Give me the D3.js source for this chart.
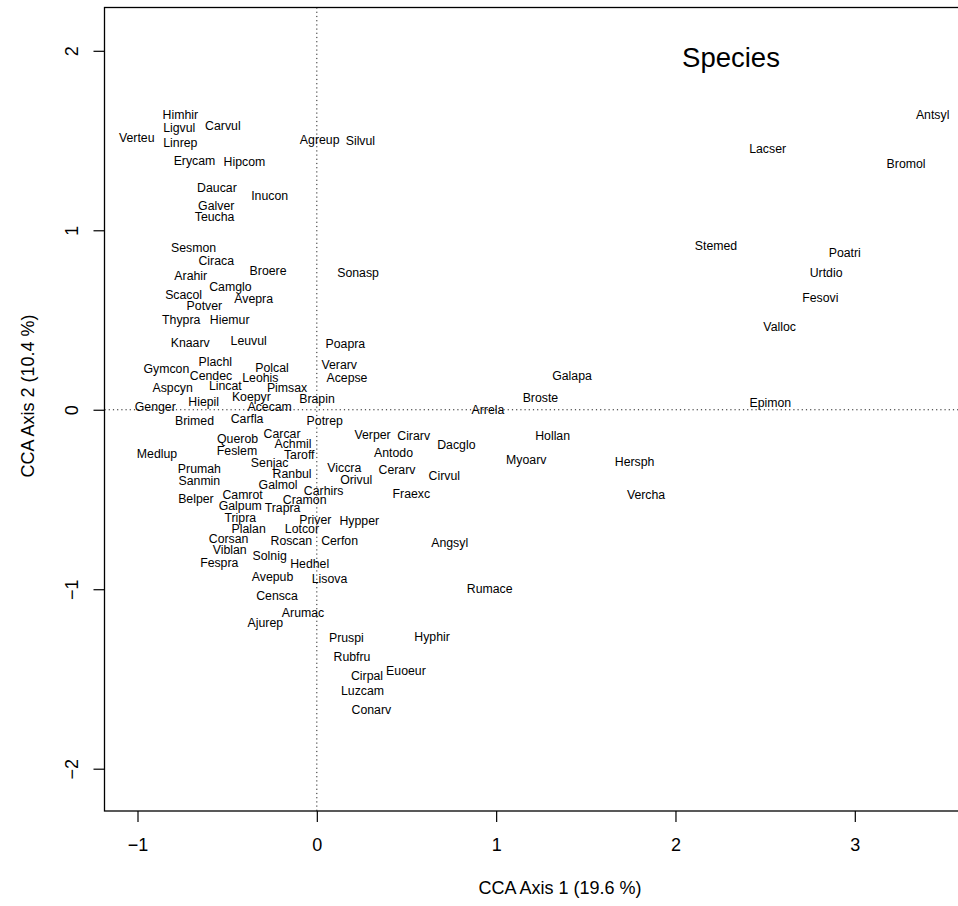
<!DOCTYPE html>
<html>
<head>
<meta charset="utf-8">
<script src="https://cdn.jsdelivr.net/npm/d3@7"></script>
<style>
  html, body { margin: 0; padding: 0; background: #fff; }
  svg { display: block; font-family: "Liberation Sans", Arial, Helvetica, sans-serif; }
</style>
</head>
<body>
<svg id="chart" width="958" height="906"></svg>
<script>
// Species scores on the first two CCA axes
const species = [
  "Himhir","Ligvul","Carvul","Verteu","Linrep","Erycam","Hipcom","Daucar","Inucon","Galver",
  "Teucha","Sesmon","Ciraca","Broere","Arahir","Camglo","Scacol","Avepra","Potver","Thypra",
  "Hiemur","Knaarv","Leuvul","Plachl","Gymcon","Polcal","Cendec","Leohis","Aspcyn","Lincat",
  "Pimsax","Koepyr","Hiepil","Genger","Acecam","Brapin","Brimed","Carfla","Potrep","Querob",
  "Carcar","Achmil","Medlup","Feslem","Taroff","Senjac","Prumah","Ranbul","Sanmin","Galmol",
  "Carhirs","Belper","Camrot","Cramon","Galpum","Trapra","Tripra","Priver","Plalan","Lotcor",
  "Corsan","Roscan","Cerfon","Viblan","Solnig","Fespra","Hedhel","Avepub","Lisova","Censca",
  "Arumac","Ajurep","Pruspi","Hyphir","Rubfru","Euoeur","Cirpal","Luzcam","Conarv","Agreup",
  "Silvul","Sonasp","Poapra","Verarv","Acepse","Arrela","Verper","Cirarv","Dacglo","Antodo",
  "Viccra","Cerarv","Orivul","Cirvul","Fraexc","Hypper","Angsyl","Rumace","Myoarv","Hollan",
  "Galapa","Broste","Hersph","Vercha","Antsyl","Lacser","Bromol","Stemed","Poatri","Urtdio",
  "Fesovi","Valloc","Epimon"
];
const axis1 = [
  -0.761,-0.767,-0.524,-1.004,-0.761,-0.682,-0.404,-0.557,-0.263,-0.561,
  -0.570,-0.687,-0.561,-0.272,-0.703,-0.482,-0.743,-0.352,-0.627,-0.756,
  -0.486,-0.706,-0.380,-0.566,-0.839,-0.250,-0.590,-0.315,-0.804,-0.510,
  -0.166,-0.365,-0.631,-0.901,-0.263, 0.001,-0.682,-0.389, 0.044,-0.442,
  -0.194,-0.133,-0.891,-0.445,-0.098,-0.263,-0.655,-0.138,-0.655,-0.216,
   0.038,-0.674,-0.414,-0.068,-0.427,-0.191,-0.427,-0.008,-0.380,-0.083,
  -0.492,-0.142, 0.127,-0.486,-0.263,-0.544,-0.040,-0.247, 0.071,-0.222,
  -0.077,-0.287, 0.165, 0.643, 0.196, 0.497, 0.280, 0.255, 0.304, 0.016,
   0.243, 0.230, 0.159, 0.125, 0.168, 0.954, 0.311, 0.540, 0.778, 0.428,
   0.153, 0.447, 0.220, 0.711, 0.527, 0.237, 0.741, 0.964, 1.168, 1.315,
   1.423, 1.247, 1.772, 1.836, 3.434, 2.514, 3.286, 2.226, 2.944, 2.840,
   2.808, 2.581, 2.529
];
const axis2 = [
   1.642, 1.570, 1.582, 1.517, 1.488, 1.386, 1.381, 1.237, 1.193, 1.137,
   1.076, 0.903, 0.831, 0.773, 0.745, 0.686, 0.639, 0.617, 0.578, 0.500,
   0.500, 0.376, 0.385, 0.268, 0.231, 0.236, 0.188, 0.178, 0.125, 0.132,
   0.123, 0.072, 0.045, 0.017, 0.017, 0.064,-0.063,-0.048,-0.063,-0.159,
  -0.135,-0.191,-0.243,-0.230,-0.253,-0.295,-0.327,-0.358,-0.397,-0.420,
  -0.452,-0.498,-0.475,-0.503,-0.535,-0.544,-0.600,-0.612,-0.665,-0.661,
  -0.721,-0.730,-0.732,-0.778,-0.814,-0.853,-0.856,-0.931,-0.941,-1.038,
  -1.132,-1.187,-1.271,-1.265,-1.377,-1.455,-1.484,-1.566,-1.674, 1.503,
   1.499, 0.764, 0.366, 0.249, 0.181,-0.002,-0.137,-0.143,-0.197,-0.237,
  -0.323,-0.336,-0.388,-0.370,-0.466,-0.619,-0.741,-0.996,-0.280,-0.147,
   0.188, 0.067,-0.290,-0.475, 1.643, 1.457, 1.373, 0.912, 0.877, 0.766,
   0.624, 0.463, 0.041
];
const xTicks = [-1, 0, 1, 2, 3];
const yTicks = [-2, -1, 0, 1, 2];

const svg = d3.select("#chart");

// Plot region (equal scale on both axes; right edge runs past the canvas)
const box = { left: 104.5, top: 7.5, right: 1016, bottom: 811 };

const x = d3.scaleLinear().domain([-1, 3]).range([137.5, 854.8]);
const y = d3.scaleLinear().domain([-2, 2]).range([768.7, 50.8]);

const fmt = d => d < 0 ? "\u2212" + Math.abs(d) : String(d);

// Dotted reference lines through the origin
svg.append("line")
  .attr("x1", x(0)).attr("x2", x(0))
  .attr("y1", box.top).attr("y2", box.bottom)
  .attr("stroke", "#222").attr("stroke-width", 1)
  .attr("stroke-dasharray", "1.2,3");
svg.append("line")
  .attr("x1", box.left).attr("x2", box.right)
  .attr("y1", y(0)).attr("y2", y(0))
  .attr("stroke", "#222").attr("stroke-width", 1)
  .attr("stroke-dasharray", "1.2,3");

// Species names at their scores
svg.append("g")
  .selectAll("text")
  .data(species.map((s, i) => ({ name: s, a1: axis1[i], a2: axis2[i] })))
  .join("text")
  .attr("x", d => x(d.a1))
  .attr("y", d => y(d.a2))
  .attr("dy", "0.35em")
  .attr("text-anchor", "middle")
  .attr("font-size", 12.3)
  .attr("fill", "#000")
  .text(d => d.name);

// Frame
svg.append("rect")
  .attr("x", box.left).attr("y", box.top)
  .attr("width", box.right - box.left).attr("height", box.bottom - box.top)
  .attr("fill", "none").attr("stroke", "#000").attr("stroke-width", 1.3);

// Bottom axis
const xAxis = d3.axisBottom(x).tickValues(xTicks).tickSize(11).tickPadding(16).tickFormat(fmt);
const gx = svg.append("g").attr("transform", `translate(0,${box.bottom})`).call(xAxis);
gx.select(".domain").remove();
gx.selectAll(".tick line").attr("stroke", "#000").attr("stroke-width", 1.2);
gx.selectAll(".tick text").attr("font-size", 18).attr("fill", "#000")
  .attr("font-family", "\"Liberation Sans\", Arial, sans-serif");

// Left axis, labels parallel to the axis
const yAxis = d3.axisLeft(y).tickValues(yTicks).tickSize(11).tickFormat(fmt);
const gy = svg.append("g").attr("transform", `translate(${box.left},0)`).call(yAxis);
gy.select(".domain").remove();
gy.selectAll(".tick line").attr("stroke", "#000").attr("stroke-width", 1.2);
gy.selectAll(".tick text")
  .attr("font-size", 18).attr("fill", "#000")
  .attr("font-family", "\"Liberation Sans\", Arial, sans-serif")
  .attr("x", null)
  .attr("dy", "0.35em")
  .attr("text-anchor", "middle")
  .attr("transform", "translate(-33,0) rotate(-90)");

// Axis titles
svg.append("text")
  .attr("x", 560).attr("y", 888).attr("dy", "0.35em")
  .attr("text-anchor", "middle").attr("font-size", 18)
  .text("CCA Axis 1 (19.6 %)");
svg.append("text")
  .attr("transform", "translate(27.5,396) rotate(-90)")
  .attr("dy", "0.35em")
  .attr("text-anchor", "middle").attr("font-size", 18)
  .text("CCA Axis 2 (10.4 %)");

// Panel title
svg.append("text")
  .attr("x", 731).attr("y", 57).attr("dy", "0.35em")
  .attr("text-anchor", "middle").attr("font-size", 27.5)
  .text("Species");
</script>
</body>
</html>
